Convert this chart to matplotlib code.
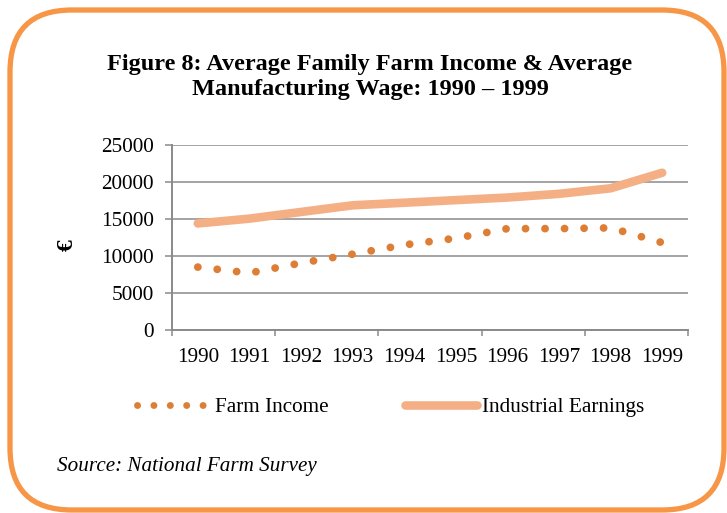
import matplotlib
matplotlib.use("Agg")
import matplotlib.pyplot as plt
from matplotlib.patches import FancyBboxPatch
from matplotlib.lines import Line2D
import numpy as np

plt.rcParams["font.family"] = ["Liberation Serif", "DejaVu Serif"]

# data
years = ["1990", "1991", "1992", "1993", "1994", "1995", "1996", "1997", "1998", "1999"]
farm_income = [8500, 7700, 9050, 10250, 11500, 12400, 13700, 13700, 13800, 11800]
industrial_earnings = [14400, 15050, 15950, 16850, 17200, 17550, 17900, 18400, 19150, 21250]

C_FARM = "#DE7E35"
C_IND = "#F5AF85"
C_BORDER = "#F79646"
C_GRID = "#8A8A8A"

W, H = 727, 513
fig = plt.figure(figsize=(W / 100, H / 100), dpi=100, facecolor="white")

# background axes in pixel units for the rounded frame
bg = fig.add_axes([0, 0, 1, 1])
bg.set_xlim(0, W); bg.set_ylim(H, 0)
bg.axis("off")
frame = FancyBboxPatch((10, 10), 714, 500,
                       boxstyle="round,pad=0,rounding_size=62",
                       facecolor="white", edgecolor=C_BORDER, linewidth=3.8)
bg.add_patch(frame)

# chart axes
ax = fig.add_axes([172 / W, 1 - 330 / H, (688 - 172) / W, (330 - 145) / H])
ax.set_facecolor("none")
x = np.arange(len(years))

ax.plot(x, industrial_earnings, color=C_IND, lw=6.2, solid_capstyle="round",
        solid_joinstyle="round", zorder=3)
ax.plot(x, farm_income, color=C_FARM, lw=5.6, linestyle=(0, (0.01, 2.5)),
        dash_capstyle="round", zorder=3)

ax.set_xlim(-0.5, len(years) - 0.5)
ax.set_ylim(0, 25000)
ax.set_yticks(np.arange(0, 25001, 5000))
ax.yaxis.grid(True, color=C_GRID, lw=1.1)
ax.set_axisbelow(True)

# tick marks between every second category, labels on every category
ax.set_xticks(np.arange(-0.5, len(years), 2))
ax.set_xticklabels([])
ax.set_xticks(x, minor=True)
ax.set_xticklabels(years, minor=True)
ax.tick_params(axis="x", which="major", direction="out", length=4, width=1.1, color=C_GRID)
ax.tick_params(axis="x", which="minor", length=0, pad=13, labelsize=15.3)
ax.tick_params(axis="y", direction="out", length=5, width=1.1, color=C_GRID,
               labelsize=15.3, pad=8)

for s in ("top", "right"):
    ax.spines[s].set_visible(False)
for s in ("left", "bottom"):
    ax.spines[s].set_color(C_GRID)
    ax.spines[s].set_linewidth(1.4)

fig.text(67 / W, 1 - 245 / H, "€", rotation=90, ha="center", va="center",
         fontsize=17, fontweight="bold")

fig.text(370 / W, 1 - 77 / H,
         "Figure 8: Average Family Farm Income & Average\nManufacturing Wage: 1990 – 1999",
         ha="center", va="center", fontsize=17.5, fontweight="bold", linespacing=1.2)

handles = [
    Line2D([], [], color=C_FARM, lw=5.0, linestyle=(0, (0.01, 2.35)), dash_capstyle="round"),
    Line2D([], [], color=C_IND, lw=6.2, solid_capstyle="round"),
]
fig.legend(handles, ["Farm Income", "Industrial Earnings"], ncol=2, frameon=False,
           loc="center", bbox_to_anchor=(391 / W, 1 - 407 / H), fontsize=15.3,
           handlelength=3.4, handletextpad=0.25, columnspacing=3.6)

fig.text(57 / W, 1 - 467 / H, "Source: National Farm Survey", ha="left", va="center",
         fontsize=15.2, style="italic")

fig.savefig("out.png", dpi=100, facecolor="white")
